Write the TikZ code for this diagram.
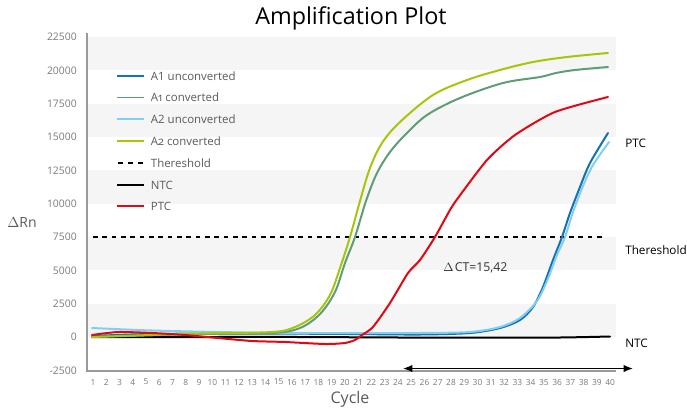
\documentclass[tikz,border=0pt]{standalone}
\usepackage{fontspec}
\setmainfont{Open Sans}
\usepackage{tikz}
\usetikzlibrary{positioning,arrows.meta}
\definecolor{aoneun}{HTML}{1472AE}
\definecolor{aonecv}{HTML}{5E9E74}
\definecolor{atwoun}{HTML}{80CFF3}
\definecolor{atwocv}{HTML}{A8C50C}
\definecolor{ptcred}{HTML}{E30613}
\definecolor{bandgray}{HTML}{F5F5F5}
\definecolor{axisgray}{HTML}{9A9A9A}
\definecolor{labelgray}{HTML}{7A7A7A}
\definecolor{textgray}{HTML}{5A5A5A}
\newcommand{\oldnum}[1]{{\addfontfeatures{Numbers=OldStyle}#1}}

\begin{document}
\begin{tikzpicture}[
      x=0.75pt, y=-0.75pt,
      band/.style={fill=bandgray, draw=none},
      axisline/.style={draw=axisgray, line width=1.5pt},
      curve/.style={line width=1.5pt, line join=round, line cap=round},
      thresh/.style={black, line width=1.5pt, dash pattern=on 3.5pt off 3.5pt},
      legline/.style={line width=1.3pt},
      legtext/.style={text=textgray, font=\fontsize{8.6}{10}\selectfont, inner sep=0pt},
      ylab/.style={text=labelgray, font=\fontsize{7.8}{9}\selectfont, anchor=east, inner sep=0pt},
      xlab/.style={text=labelgray, font=\fontsize{6.3}{8}\selectfont, inner sep=0pt},
      sidelab/.style={black, font=\fontsize{8.8}{10}\selectfont, anchor=west, inner sep=0pt}
      ]
      \useasboundingbox (0,0) rectangle (687,412);

      % background bands, one every 5000 (2500 = 33.33px)
      \foreach \i in {0,...,4} {
        \fill[band] (88,{337-\i*66.667}) rectangle (616,{337-\i*66.667-33.333});
      }

      % ticks
      \foreach \v [count=\k] in {-2500,0,2500,5000,7500,10000,12500,15000,17500,20000,22500} {
        \node[ylab] (ytick\k) at (77,{337-(\k-2)*33.333}) {\v};
      }
      \foreach \c in {1,...,40} {
        \node[xlab] (xtick\c) at ({93+(\c-1)*13.26},382) {\c};
      }
      \draw[axisline] (87,33) -- (87,370.5) -- (616,370.5);

      \node[font=\fontsize{17.5}{20}\selectfont] (title) at (351,18) {Amplification Plot};
      \node[text=textgray, font=\fontsize{12}{14}\selectfont] (xname) at (350,399) {Cycle};
      \node[text=textgray, font=\fontsize{10.5}{12}\selectfont] (yname) at (22,222) {$\Delta$Rn};

      % threshold
      \draw[thresh] (93,237) -- (606,237);

      % curves
      \draw[curve, black] plot[smooth, tension=0.5] coordinates {
        (92,337) (200,337) (300,337) (400,337.5) (500,337.5) (560,337.5) (610,336.5)};
      \draw[curve, aoneun] plot[smooth, tension=0.5] coordinates {
        (92,336) (150,334) (250,333.5) (350,334) (420,334.5) (470,333) (500,328)
        (520,320) (533,307) (543,287) (553,260) (562,237) (570,213) (580,187)
        (590,163) (608,133)};
      \draw[curve, atwoun] plot[smooth, tension=0.5] coordinates {
        (92,328) (152,330.5) (218,332) (285,333) (352,333) (420,333) (470,332)
        (500,327) (520,318) (537,301) (547,281) (557,255) (565,237) (573,212)
        (583,186) (593,165) (609,142)};
      \draw[curve, aonecv] plot[smooth, tension=0.55] coordinates {
        (92,337) (200,334) (272,333) (300,328) (320,314) (335,292) (345,263)
        (355,237) (366,201) (377,173) (390,152) (405,135) (427,115) (460,98)
        (503,83) (540,77) (556,73) (575,70) (608,67)};
      \draw[curve, atwocv] plot[smooth, tension=0.55] coordinates {
        (92,337) (200,333.5) (272,332) (295,327) (315,315) (330,295) (340,268)
        (350,237) (360,201) (370,168) (382,143) (400,122) (433,95) (467,80)
        (500,70) (533,62) (567,57) (608,53)};
      \draw[curve, ptcred] plot[smooth, tension=0.4] coordinates {
        (92,335) (118,332) (152,333) (185,335) (218,338) (252,341) (285,342)
        (325,344) (345,343) (355,340) (362,335) (373,327) (390,303) (408,273)
        (420,260) (435,237) (450,210) (458,198) (487,160) (515,135) (555,112)
        (608,97)};

      % legend
      \coordinate (k1) at (144,76);
      \coordinate (k2) at (144,97.5);
      \coordinate (k3) at (144,119);
      \coordinate (k4) at (144,141);
      \coordinate (k5) at (144,163);
      \coordinate (k6) at (144,185);
      \coordinate (k7) at (144,206);
      \draw[legline, aoneun] (117,76) -- (k1);
      \draw[legline, aonecv] (117,97.5) -- (k2);
      \draw[legline, atwoun] (117,119) -- (k3);
      \draw[legline, atwocv] (117,141) -- (k4);
      \draw[legline, black, dash pattern=on 3.8pt off 3.8pt] (118,163) -- (k5);
      \draw[legline, black] (117,185) -- (k6);
      \draw[legline, ptcred] (117,206) -- (k7);
      \node[legtext, right=5pt of k1] (l1) {A1 unconverted};
      \node[legtext, right=5pt of k2] (l2) {A\oldnum{1} converted};
      \node[legtext, right=5pt of k3] (l3) {A2 unconverted};
      \node[legtext, right=5pt of k4] (l4) {A\oldnum{2} converted};
      \node[legtext, right=5pt of k5] (l5) {Thereshold};
      \node[legtext, right=5pt of k6] (l6) {NTC};
      \node[legtext, right=5pt of k7] (l7) {PTC};

      % labels at the right
      \node[sidelab] (ptc) at (625,143) {PTC};
      \node[sidelab] (thr) at (625,250) {Thereshold};
      \node[sidelab] (ntc) at (625,343) {NTC};

      % delta CT span
      \node[anchor=west, text=black!80, font=\fontsize{9.2}{11}\selectfont, inner sep=0pt] (dct) at (443,268) {$\Delta$\kern1ptCT=15,42};
      \coordinate (ctleft) at (403,368.5);
      \coordinate (ctright) at (633,368.5);
      \draw[line width=1pt, {Latex[length=7pt,width=5.5pt]}-{Latex[length=7pt,width=5.5pt]}] (ctleft) -- (ctright);
    \end{tikzpicture}
\end{document}
